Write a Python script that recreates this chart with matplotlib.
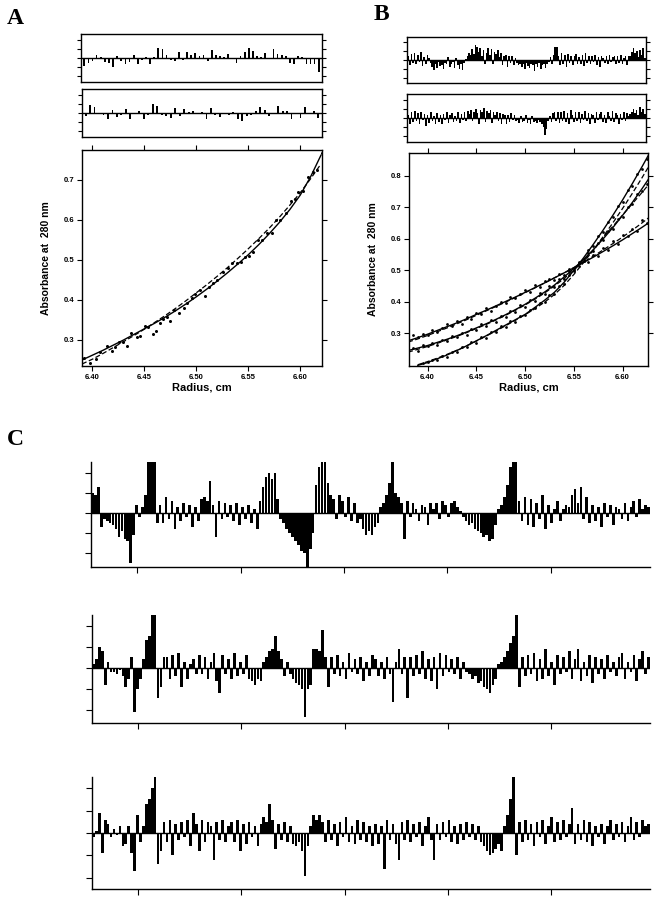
import matplotlib.pyplot as plt
import numpy as np

plt.rcParams['font.family'] = ['Liberation Sans', 'DejaVu Sans']
plt.rcParams['font.weight'] = 'bold'

# ---------- panel A ----------
a_rad = [6.392, 6.398, 6.403, 6.407, 6.414,
         6.419, 6.422, 6.426, 6.429, 6.433,
         6.437, 6.443, 6.446, 6.451, 6.454,
         6.458, 6.461, 6.465, 6.468, 6.472,
         6.475, 6.479, 6.483, 6.488, 6.491,
         6.496, 6.499, 6.504, 6.508, 6.512,
         6.516, 6.520, 6.526, 6.531, 6.534,
         6.539, 6.543, 6.547, 6.551, 6.555,
         6.559, 6.563, 6.568, 6.573, 6.577,
         6.581, 6.586, 6.591, 6.595, 6.598,
         6.603, 6.608, 6.612, 6.616, 6.621]
a_abs = [0.254, 0.243, 0.252, 0.270, 0.286,
         0.273, 0.282, 0.296, 0.296, 0.286,
         0.318, 0.307, 0.310, 0.335, 0.332,
         0.314, 0.323, 0.343, 0.352, 0.358,
         0.348, 0.375, 0.367, 0.379, 0.393,
         0.404, 0.415, 0.425, 0.410, 0.433,
         0.442, 0.450, 0.471, 0.481, 0.493,
         0.492, 0.496, 0.507, 0.510, 0.521,
         0.550, 0.550, 0.568, 0.567, 0.600,
         0.600, 0.617, 0.648, 0.652, 0.671,
         0.673, 0.707, 0.719, 0.725, 0.768]
a_grid = [6.39, 6.40, 6.41, 6.42, 6.43, 6.44, 6.45, 6.46, 6.47, 6.48, 6.49, 6.50,
          6.51, 6.52, 6.53, 6.54, 6.55, 6.56, 6.57, 6.58, 6.59, 6.60, 6.61, 6.62]
a_fit = [0.250, 0.262, 0.274, 0.287, 0.300, 0.314, 0.328, 0.342, 0.357, 0.373, 0.390, 0.408,
         0.427, 0.447, 0.468, 0.490, 0.513, 0.538, 0.565, 0.594, 0.626, 0.662, 0.708, 0.762]
a_fit2 = [0.240, 0.252, 0.266, 0.281, 0.296, 0.311, 0.327, 0.344, 0.361, 0.379, 0.398, 0.418,
          0.438, 0.459, 0.481, 0.504, 0.528, 0.553, 0.579, 0.607, 0.637, 0.668, 0.703, 0.740]
a_res1 = [-0.9, -0.5, -0.3, 0.3, 0.1, -0.4, -0.5, -1.0, 0.2, -0.3, -0.6, -0.4, 0.3, -0.6, -0.2,
          0.1, -0.7, 0.1, 1.1, 1.0, 0.3, -0.2, -0.3, 0.7, -0.2, 0.6, 0.3, 0.5, 0.2, 0.3,
          -0.3, 0.9, 0.3, 0.2, 0.1, 0.4, 0.0, -0.5, 0.2, 0.7, 1.1, 0.8, 0.2, 0.1, 0.5,
          0.0, 1.0, 0.4, 0.3, 0.2, -0.5, -0.6, 0.2, 0.1, -0.6, -0.6, -0.6, -1.5]
a_res2 = [-0.3, 0.9, 0.6, -0.1, -0.2, -0.6, 0.3, -0.4, -0.2, 0.4, -0.7, -0.1, 0.2, -0.6, -0.2,
          1.0, 0.8, -0.2, -0.3, -0.5, 0.5, -0.3, 0.4, 0.1, 0.2, -0.1, 0.1, -0.6, 0.5, -0.2,
          -0.4, 0.0, -0.2, 0.1, -0.6, -0.9, -0.3, -0.2, 0.2, 0.6, 0.3, -0.3, 0.0, 0.8, 0.2,
          0.2, -0.6, 0.0, -0.5, 0.6, -0.1, 0.2, -0.5]

# ---------- panel B ----------
b_rad = [6.385, 6.390, 6.395, 6.400, 6.405, 6.410, 6.415,
         6.420, 6.425, 6.430, 6.435, 6.440, 6.445, 6.450,
         6.455, 6.460, 6.465, 6.470, 6.475, 6.480, 6.485,
         6.490, 6.495, 6.500, 6.505, 6.510, 6.515, 6.520,
         6.525, 6.530, 6.535, 6.540, 6.545, 6.550, 6.555,
         6.560, 6.565, 6.570, 6.575, 6.580, 6.585, 6.590,
         6.595, 6.600, 6.605, 6.610, 6.615, 6.620, 6.625]
b_abs1 = [0.296, 0.289, 0.298, 0.294, 0.310, 0.305, 0.318,
          0.328, 0.322, 0.338, 0.331, 0.352, 0.344, 0.366,
          0.360, 0.380, 0.371, 0.388, 0.398, 0.396, 0.414,
          0.411, 0.426, 0.437, 0.431, 0.452, 0.447, 0.466,
          0.473, 0.470, 0.489, 0.485, 0.503, 0.506, 0.515,
          0.530, 0.528, 0.548, 0.545, 0.572, 0.566, 0.594,
          0.585, 0.612, 0.608, 0.632, 0.626, 0.661, 0.652]
b_abs2 = [0.252, 0.245, 0.262, 0.258, 0.270, 0.263, 0.280,
          0.276, 0.291, 0.287, 0.301, 0.295, 0.314, 0.310,
          0.328, 0.322, 0.343, 0.335, 0.356, 0.352, 0.372,
          0.368, 0.389, 0.385, 0.407, 0.404, 0.428, 0.424,
          0.449, 0.446, 0.472, 0.474, 0.497, 0.502, 0.526,
          0.530, 0.556, 0.561, 0.588, 0.596, 0.624, 0.630,
          0.662, 0.669, 0.701, 0.710, 0.742, 0.752, 0.776]
b_abs3 = [0.206, 0.210, 0.216, 0.215, 0.229, 0.226, 0.241,
          0.240, 0.256, 0.255, 0.272, 0.268, 0.289, 0.286,
          0.305, 0.304, 0.322, 0.319, 0.339, 0.337, 0.356,
          0.357, 0.375, 0.379, 0.397, 0.400, 0.421, 0.426,
          0.449, 0.458, 0.484, 0.497, 0.523, 0.536, 0.565,
          0.578, 0.609, 0.622, 0.655, 0.668, 0.703, 0.716,
          0.754, 0.768, 0.807, 0.822, 0.855]
b_grid = [6.38, 6.39, 6.40, 6.41, 6.42, 6.43, 6.44, 6.45, 6.46, 6.47, 6.48, 6.49, 6.50,
          6.51, 6.52, 6.53, 6.54, 6.55, 6.56, 6.57, 6.58, 6.59, 6.60, 6.61, 6.62, 6.63]
b_fit1 = [0.276, 0.286, 0.297, 0.309, 0.321, 0.333, 0.346, 0.360, 0.373, 0.387, 0.401, 0.415, 0.430,
          0.445, 0.460, 0.476, 0.492, 0.508, 0.525, 0.542, 0.560, 0.578, 0.597, 0.617, 0.637, 0.658]
b_fit2 = [0.245, 0.253, 0.261, 0.271, 0.281, 0.292, 0.304, 0.317, 0.330, 0.344, 0.359, 0.375, 0.392,
          0.411, 0.431, 0.453, 0.479, 0.506, 0.535, 0.566, 0.600, 0.636, 0.675, 0.716, 0.760, 0.806]
b_fit3 = [0.198, 0.207, 0.219, 0.231, 0.245, 0.260, 0.276, 0.292, 0.309, 0.326, 0.343, 0.360,
          0.382, 0.405, 0.430, 0.462, 0.500, 0.540, 0.583, 0.628, 0.675, 0.724, 0.776, 0.830, 0.886]
b_dash1 = [0.272, 0.282, 0.293, 0.305, 0.317, 0.330, 0.343, 0.357, 0.371, 0.385, 0.399, 0.414, 0.429,
           0.444, 0.460, 0.476, 0.492, 0.509, 0.527, 0.545, 0.565, 0.585, 0.606, 0.628, 0.651, 0.675]
b_dash2 = [0.240, 0.249, 0.258, 0.268, 0.279, 0.290, 0.302, 0.315, 0.328, 0.342, 0.357, 0.373, 0.390,
           0.408, 0.428, 0.450, 0.474, 0.501, 0.530, 0.563, 0.605, 0.640, 0.676, 0.712, 0.748, 0.785]
b_dash3 = [0.200, 0.210, 0.221, 0.233, 0.246, 0.260, 0.275, 0.291, 0.307, 0.324, 0.341, 0.359,
           0.378, 0.399, 0.423, 0.452, 0.487, 0.525, 0.565, 0.607, 0.651, 0.697, 0.745, 0.795, 0.847]
b_res1 = [0.4, -0.6, 0.7, -0.3, 0.8, -0.5, 0.6, -0.2, 0.9, -0.7, 0.3, -0.4, 0.6, 0.2, -0.3, -0.8,
          -1.1, -0.4, -0.9, -0.2, -0.7, -0.6, -1.0, -0.3, -0.5, 0.3, -0.8, -0.4, -0.2, -0.9, 0.2,
          -0.6, -1.0, -0.5, -1.1, -0.3, 0.1,
          0.5, 0.8, 0.6, 1.2, 0.7, 1.7, 1.5, 0.9, 1.3, 0.4, 1.1, -0.4, 0.8, 1.4, 0.6, 1.2, -0.5,
          0.9, 0.7, 1.1, 0.3, 0.8, -0.6, 0.5, 0.6,
          -0.8, 0.4, -0.3, 0.5, -0.6, 0.2,
          -0.3, -0.6, -0.4, -0.8, -0.5, -1.0, -0.3, -0.7, -0.9, -0.4, -0.6, -1.2, -0.5, -0.8, -0.3,
          -1.0, -0.6, -0.4, -0.9, -0.5, -0.2, 0.3, -0.4,
          0.6, 1.5, 1.5, 0.4,
          -0.6, 0.8, -0.4, 0.6, -0.8, 0.7, -0.3, 0.5, -0.6, 0.4, 0.7, -0.5, 0.3, -0.4, 0.6, -0.7,
          0.8, -0.3, 0.5, -0.5, 0.4, -0.2, 0.6, -0.6, 0.3, -0.8, 0.4, 0.2, -0.3, 0.5, -0.4, 0.6,
          -0.2, 0.3, 0.5, -0.5, 0.4, -0.3, 0.6, -0.4, 0.2, 0.5, -0.6, 0.4,
          0.5, 0.9, 1.3, 0.8, 1.0, 0.3, 1.1, 0.6, 1.4, 0.2]
b_res2 = [0.3, -0.7, 0.6, -0.4, 0.8, -0.3, 0.5, -0.6, 0.7, -0.2, 0.4, -0.9, 0.3, -0.5, 0.6, -0.3,
          0.2, -0.6, 0.5, -0.4, 0.3, -0.7, 0.4, -0.2, 0.6, -0.5, 0.3, 0.5, -0.4, 0.2, -0.3, 0.6,
          -0.5, 0.4, -0.2, 0.7, -0.3,
          0.8, 0.4, 0.9, -0.3, 0.7, 1.0, 0.5, -0.6, 0.9, 0.6, 1.1, -0.4, 0.8, 0.5, 0.9, -0.5, 0.6,
          0.3, 0.7, -0.3, 0.5, -0.7, 0.4, 0.3,
          -0.6, 0.3, -0.4, 0.5, -0.2, 0.3,
          -0.3, -0.2, -0.5, 0.2, -0.4, -0.3, 0.3, -0.5, -0.2, -0.6, 0.2, -0.4, -0.3, -0.5, -0.2,
          -0.4, -0.7, -1.0, -1.8, -1.2, -0.3, 0.2, -0.4,
          0.5, 0.6, -0.3, 0.7,
          -0.5, 0.6, -0.3, 0.8, -0.4, 0.5, -0.6, 0.9, 0.3, -0.4, 0.6, -0.3, 0.7, -0.5, 0.4, -0.2,
          0.8, -0.3, 0.5, -0.6, 0.4, 0.3, -0.5, 0.6, -0.2, 0.4, 0.7, -0.4, 0.3, -0.5, 0.6, 0.2,
          -0.3, 0.8, -0.4, 0.5, 0.3, -0.6, 0.4, -0.2, 0.6, -0.3, 0.5, 0.2,
          0.4, 0.7, 1.0, 0.5, 0.9, 0.3, 1.2, 0.6, 1.0, 0.4]

# ---------- panel C ----------
c1 = [1.0, 0.9, 1.3, -0.7,
      -0.3, -0.4, -0.5, -0.6, -0.8, -1.2, -0.9, -1.3, -1.4, -2.5, -1.1, 0.4, -0.2, 0.3, 0.9,
      2.8, 2.8, 2.8, -0.5,
      0.4, -0.5, 0.8, -0.3, 0.6, -0.8, 0.3, -0.4, 0.5, -0.2, 0.4, -0.7, 0.3, -0.4,
      0.7, 0.8, 0.6, 1.6, 0.4, -1.2,
      0.6, -0.3, 0.5, -0.2, 0.4, -0.4, 0.5, -0.6, 0.3, -0.3, 0.4, -0.5, 0.2, -0.8,
      0.6, 1.3, 1.8, 2.0, 1.7, 2.0, 0.7,
      -0.3, -0.5, -0.8, -1.0, -1.2, -1.4, -1.6, -1.9, -2.0, -2.7, -1.8, -1.0,
      1.4, 2.3, 2.6, 2.6, 1.5, 0.9,
      0.7, -0.3, 0.9, 0.6, -0.2, 0.8, -0.4, 0.5, -0.5, -0.3,
      -0.8, -1.1, -0.9, -1.1, -0.7, -0.5,
      0.3, 0.5, 0.9, 1.5, 2.6, 1.0, 0.8, 0.5, -1.3,
      0.6, -0.2, 0.5, 0.2, -0.4, 0.4, 0.3, -0.6, 0.5, 0.2, 0.5, -0.3, 0.6, 0.4, -0.2, 0.5, 0.6,
      0.3, 0.1,
      -0.2, -0.4, -0.6, -0.5, -0.8, -0.9, -1.0, -1.2, -1.1, -1.4, -1.3, -0.6,
      0.2, 0.4, 0.8, 1.4, 2.3, 2.6, 2.6,
      0.6, -0.4, 0.8, -0.6, 0.7, -0.7, 0.5, -0.3, 0.9, -0.8, 0.4, -0.5, 0.2, 0.6, -0.4,
      0.2, 0.4, 0.3, 0.9, 1.2, 0.5, 1.3, -0.3, 0.8,
      -0.5, 0.4, -0.4, 0.3, -0.7, 0.5, -0.2, 0.4, -0.6, 0.3, 0.2, -0.3, 0.5, -0.4, 0.3, 0.6,
      -0.2, 0.7, 0.2, 0.4, 0.3]
c2 = [0.2, 0.4, 1.0, 0.8, -0.8, 0.3, -0.2,
      -0.2, -0.3, -0.1, -0.4, -0.9, -0.5, 0.5, -2.1, -1.0, -0.5, 0.4,
      1.3, 1.5, 2.6, 2.6, -1.4, -0.9, 0.5,
      0.5, -0.5, 0.6, -0.4, 0.7, -0.9, 0.3, -0.5, 0.2, 0.4, -0.3, 0.6, -0.3, 0.5, -0.5, 0.3,
      0.7, -0.6, -1.2,
      0.6, -0.3, 0.4, -0.5, 0.7, -0.4, 0.3, -0.3, 0.6, -0.5,
      -0.6, -0.8, -0.5, -0.6,
      0.3, 0.5, 0.8, 0.9, 1.5, 0.8,
      0.4, -0.4, 0.3, -0.3, -0.5, -0.7, -0.8, -1.0, -2.3, -1.0, -0.8,
      0.9, 0.9, 0.8, 1.8, 0.5, -0.9,
      0.5, -0.3, 0.6, -0.4, 0.3, -0.5, 0.7, -0.2, 0.4, -0.3, 0.5, -0.6, 0.3, -0.4, 0.6,
      0.4, -0.4, 0.3, -0.5, 0.5, -0.3, -1.6, 0.3, 0.9, -0.3, 0.5, -1.4,
      0.5, -0.4, 0.6, -0.3, 0.8, -0.5, 0.4, -0.6, 0.5, -1.0, 0.7, -0.4, 0.6, -0.2, 0.4, -0.3,
      0.5, -0.5, 0.3,
      -0.2, -0.3, -0.5, -0.4, -0.7, -0.6, -0.9, -1.0, -1.2, -0.8, -0.5,
      0.2, 0.3, 0.5, 0.8, 1.2, 1.5, 2.5, -0.9,
      0.5, -0.4, 0.6, -0.3, 0.7, -0.6, 0.4, -0.5, 0.9, -0.4, 0.3, -0.8, 0.6, -0.3, 0.5, -0.2,
      0.8, -0.5, 0.4, 0.9, -0.6, 0.3, -0.4, 0.6, -0.7, 0.5, -0.3, 0.4, -0.5, 0.6, -0.2, 0.3,
      -0.4, 0.5, 0.7, -0.5, 0.3, -0.2, 0.6, -0.6, 0.4, 0.8, -0.3, 0.5]
c3 = [-0.2, 0.1, 0.9, -0.9, 0.6, 0.4,
      -0.2, 0.2, -0.1, 0.3, -0.6, -0.5, 0.3, -0.9, -1.7, 0.8, -0.4, 0.3,
      1.3, 1.5, 2.0, 2.6, -1.4,
      -0.8, 0.5, -0.4, 0.6, -1.0, 0.4, -0.3, 0.5, -0.2, 0.6, -0.6, 0.9, 0.4, -0.8, 0.6, -0.4,
      0.5, 0.3, -1.2,
      0.5, -0.3, 0.6, -0.4, 0.3, 0.5, -0.4, 0.6, -0.8, 0.4, -0.5, 0.5, -0.2, 0.3, -0.6, 0.4,
      0.7, 0.5, 1.3, 0.6, -0.7,
      0.4, -0.3, 0.5, -0.4, 0.3, -0.5, -0.6, -0.4, -0.8, -1.9,
      -0.6, 0.3, 0.8, 0.6, 0.8,
      0.5, -0.4, 0.6, -0.3, 0.4, -0.6, 0.5, -0.2, 0.7, -0.4, 0.3, -0.5, 0.6, -0.3, 0.5, -0.4,
      0.3, -0.6, 0.4, -0.5, 0.3,
      -1.6, 0.6, -0.3, 0.4, -0.5, -1.2,
      0.5, -0.3, 0.6, -0.4, 0.4, -0.2, 0.5, -0.6, 0.3, 0.7, -0.3, -1.2,
      0.4, -0.3, 0.5, -0.2, 0.6, -0.4, 0.3, -0.5, 0.4, -0.3, 0.5, -0.2, 0.4, -0.3, 0.3, -0.4,
      -0.6, -0.8, -1.0, -0.9, -0.7, -0.5, -0.8,
      0.3, 0.8, 1.5, 2.6, -1.0,
      0.5, -0.4, 0.6, -0.3, 0.4, -0.6, 0.5, -0.2, 0.6, -0.5, 0.3, 0.7, -0.4, 0.5, -0.3, 0.6,
      -0.2, 0.4, 1.1,
      -0.5, 0.4, -0.3, 0.6, -0.4, 0.5, -0.6, 0.3, -0.2, 0.4, -0.5, 0.3, 0.6, -0.3, 0.4, -0.2,
      0.5, -0.4, 0.3, 0.7, -0.3, 0.5, -0.2, 0.6, 0.3, 0.4]

W, H = 657, 899
fig = plt.figure(figsize=(W / 100, H / 100), dpi=100)


def box(l, t, r, b):
    # pixel box -> figure axes
    return fig.add_axes([l / W, 1 - b / H, (r - l) / W, (b - t) / H])


def resid(ax, vals, width):
    ax.bar(np.arange(len(vals)), vals, width=width, color='k', linewidth=0)
    ax.axhline(0, color='k', lw=1)
    ax.set_xlim(-0.8, len(vals) - 0.2)
    ax.set_ylim(-2.6, 2.6)
    ax.set_yticks([-2, -1, 0, 1, 2])
    ax.set_xticks([])
    ax.tick_params(axis='y', left=True, right=True, labelleft=False,
                   direction='out', length=3, width=0.8)
    for s in ax.spines.values():
        s.set_linewidth(1)


def main(ax, xlim, ylim, yt, ylab_x):
    ax.set_xlim(*xlim)
    ax.set_ylim(*ylim)
    ax.set_xticks([6.40, 6.45, 6.50, 6.55, 6.60])
    ax.set_xticklabels(['6.40', '6.45', '6.50', '6.55', '6.60'])
    ax.set_yticks(yt)
    ax.set_yticklabels(['%.1f' % v for v in yt])
    ax.tick_params(direction='out', top=True, right=True, length=3.5, width=0.8,
                   labelsize=5.5, pad=2)
    ax.set_xlabel('Radius, cm', fontsize=8, fontweight='bold', labelpad=1)
    ax.set_ylabel('Absorbance at  280 nm', fontsize=7.5, fontweight='bold')
    ax.yaxis.set_label_coords(ylab_x, 0.5)
    for s in ax.spines.values():
        s.set_linewidth(1)


# panel A
resid(box(81, 34, 322, 82), a_res1, 0.42)
resid(box(82, 89, 322, 137), a_res2, 0.42)
ax = box(82, 150, 322, 366)
ax.plot(a_grid, a_fit, color='k', lw=1)
ax.plot(a_grid, a_fit2, color='k', lw=0.9, dashes=(4, 2))
ax.plot(a_rad, a_abs, 'o', color='k', ms=2.2, mec='none')
main(ax, (6.390, 6.621), (0.235, 0.775), [0.3, 0.4, 0.5, 0.6, 0.7], -0.13)

# panel B
resid(box(407, 37, 646, 83), b_res1, 1.0)
resid(box(407, 94, 646, 142), b_res2, 1.0)
ax = box(409, 153, 648, 366)
ax.plot(b_grid, b_fit1, color='k', lw=1)
ax.plot(b_grid, b_fit2, color='k', lw=1)
ax.plot(b_grid[1:], b_fit3, color='k', lw=1)
ax.plot(b_grid, b_dash1, color='k', lw=0.9, dashes=(4, 2))
ax.plot(b_grid, b_dash2, color='k', lw=0.9, dashes=(4, 2))
ax.plot(b_grid[1:], b_dash3, color='k', lw=0.9, dashes=(4, 2))
ax.plot(b_rad, b_abs1, 'o', color='k', ms=2.0, mec='none')
ax.plot(b_rad, b_abs2, 'o', color='k', ms=2.0, mec='none')
ax.plot(b_rad[2:], b_abs3, 'o', color='k', ms=2.0, mec='none')
main(ax, (6.381, 6.626), (0.196, 0.873), [0.3, 0.4, 0.5, 0.6, 0.7, 0.8], -0.13)

# panel C
for vals, (l, t, r, b), ylim in [(c1, (91, 462, 650, 567), (-2.7, 2.55)),
                                 (c2, (92, 615, 650, 723), (-2.6, 2.5)),
                                 (c3, (92, 777, 650, 889), (-2.5, 2.5))]:
    ax = box(l, t, r, b)
    n = len(vals)
    ax.bar(np.arange(n), vals, width=0.9, color='k', linewidth=0)
    ax.axhline(0, color='k', lw=1)
    ax.set_xlim(-0.5, n - 0.5)
    ax.set_ylim(*ylim)
    ax.set_yticks([-2, -1, 0, 1, 2])
    ax.set_xticks([n * 0.08, n * 0.265, n * 0.45, n * 0.635, n * 0.82])
    ax.tick_params(labelleft=False, labelbottom=False, direction='out',
                   length=4, width=0.8)
    ax.spines['top'].set_visible(False)
    ax.spines['right'].set_visible(False)
    ax.spines['left'].set_linewidth(1)
    ax.spines['bottom'].set_linewidth(1)

for txt, x, y in [('A', 15, 18), ('B', 381, 15), ('C', 15, 440)]:
    fig.text(x / W, 1 - y / H, txt, fontsize=17, fontweight='bold',
             family='Liberation Serif', ha='center', va='center')

fig.savefig('out.png', dpi=100)
